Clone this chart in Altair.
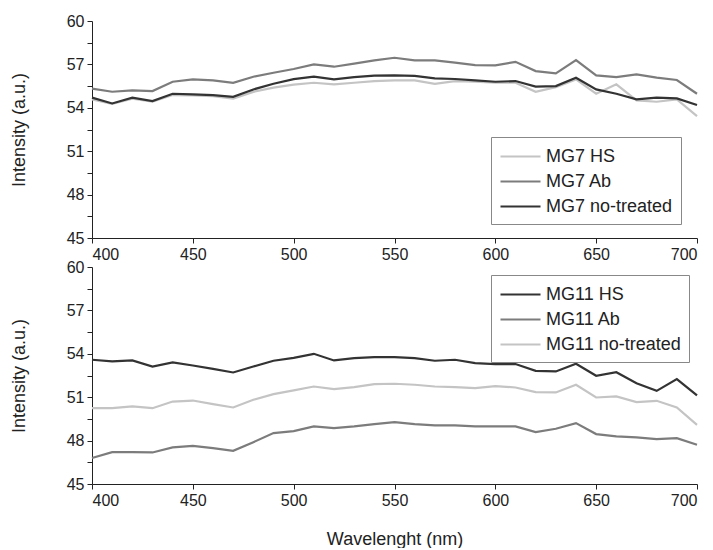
import altair as alt
import pandas as pd

wavelength = [400, 410, 420, 430, 440, 450, 460, 470, 480, 490, 500, 510, 520, 530, 540, 550,
              560, 570, 580, 590, 600, 610, 620, 630, 640, 650, 660, 670, 680, 690, 700]

mg7_hs = [54.58, 54.28, 54.63, 54.42, 54.88, 54.86, 54.80, 54.63, 55.10, 55.39, 55.60, 55.73, 55.62,
          55.73, 55.85, 55.90, 55.90, 55.66, 55.85, 55.80, 55.73, 55.73, 55.11, 55.43, 55.96, 54.97,
          55.62, 54.51, 54.42, 54.58, 53.43]
mg7_ab = [55.32, 55.11, 55.20, 55.16, 55.80, 55.96, 55.90, 55.73, 56.15, 56.42, 56.68, 57.00, 56.84,
          57.05, 57.28, 57.46, 57.28, 57.28, 57.12, 56.95, 56.93, 57.18, 56.54, 56.38, 57.30, 56.24,
          56.12, 56.31, 56.08, 55.92, 54.97]
mg7_nt = [54.70, 54.30, 54.70, 54.47, 54.97, 54.93, 54.88, 54.76, 55.27, 55.66, 55.98, 56.15, 55.96,
          56.12, 56.22, 56.24, 56.20, 56.03, 55.99, 55.90, 55.80, 55.85, 55.46, 55.50, 56.08, 55.27,
          54.97, 54.58, 54.70, 54.65, 54.19]

mg11_hs = [53.59, 53.47, 53.54, 53.12, 53.40, 53.19, 52.96, 52.71, 53.12, 53.52, 53.72, 54.00, 53.54,
           53.70, 53.77, 53.77, 53.70, 53.52, 53.59, 53.35, 53.29, 53.29, 52.82, 52.78, 53.31, 52.48,
           52.73, 51.97, 51.44, 52.25, 51.12]
mg11_ab = [46.80, 47.20, 47.20, 47.18, 47.53, 47.64, 47.48, 47.29, 47.89, 48.52, 48.66, 48.98, 48.86,
           48.98, 49.14, 49.28, 49.14, 49.05, 49.05, 48.98, 48.98, 48.98, 48.59, 48.82, 49.21, 48.45,
           48.29, 48.22, 48.10, 48.17, 47.71]
mg11_nt = [50.24, 50.24, 50.36, 50.24, 50.70, 50.77, 50.52, 50.29, 50.82, 51.21, 51.47, 51.74, 51.56,
           51.70, 51.90, 51.93, 51.86, 51.74, 51.70, 51.63, 51.77, 51.67, 51.35, 51.33, 51.86, 50.98,
           51.05, 50.66, 50.75, 50.29, 49.09]

top_series = ["MG7 HS", "MG7 Ab", "MG7 no-treated"]
bottom_series = ["MG11 HS", "MG11 Ab", "MG11 no-treated"]
top_colors = ["#c4c4c4", "#7c7c7c", "#333333"]
bottom_colors = ["#333333", "#7c7c7c", "#c4c4c4"]

y_ticks = [45, 46.5, 48, 49.5, 51, 52.5, 54, 55.5, 57, 58.5, 60]
x_ticks = [400, 450, 500, 550, 600, 650, 700]

FONT = "Liberation Sans"
PLOT_W = 605
PLOT_H = 217


def make_df(names, arrays):
    rows = []
    for order, (name, arr) in enumerate(zip(names, arrays)):
        for w, v in zip(wavelength, arr):
            rows.append({"wl": w, "val": v, "series": name, "ord": order})
    return pd.DataFrame(rows)


def panel(df, names, colors, legend_y, x_title):
    x_axis = alt.Axis(values=x_ticks, title=x_title, grid=False, tickSize=5,
                      labelFontSize=16, titleFontSize=18, titleFontWeight="normal",
                      labelColor="#222", titleColor="#222", domainColor="#222", tickColor="#222",
                      labelFont=FONT, titleFont=FONT, titlePadding=22, labelPadding=3)
    y_axis = alt.Axis(values=y_ticks, title="Intensity (a.u.)", grid=False, tickSize=5,
                      labelExpr="datum.value % 3 == 0 ? datum.label : ''",
                      labelFontSize=16, titleFontSize=18, titleFontWeight="normal",
                      labelColor="#222", titleColor="#222", domainColor="#222", tickColor="#222",
                      labelFont=FONT, titleFont=FONT, titlePadding=38, labelPadding=3)
    return alt.Chart(df).mark_line(strokeWidth=2.2).encode(
        x=alt.X("wl:Q", scale=alt.Scale(domain=[400, 700], nice=False), axis=x_axis),
        y=alt.Y("val:Q", scale=alt.Scale(domain=[45, 60], nice=False, zero=False), axis=y_axis),
        color=alt.Color("series:N", sort=names,
                        scale=alt.Scale(domain=names, range=colors),
                        legend=alt.Legend(title=None, orient="none", legendX=399, legendY=legend_y,
                                          symbolType="M-1,0H3", symbolSize=400, symbolStrokeWidth=2.2,
                                          labelFontSize=18, labelFont=FONT, labelColor="#222",
                                          strokeColor="#888", fillColor="white", padding=8,
                                          rowPadding=4, labelOffset=24, labelLimit=300)),
        order="ord:Q",
    ).properties(width=PLOT_W, height=PLOT_H)


top = panel(make_df(top_series, [mg7_hs, mg7_ab, mg7_nt]), top_series, top_colors, 116, None)
bottom = panel(make_df(bottom_series, [mg11_hs, mg11_ab, mg11_nt]), bottom_series, bottom_colors, 8,
               "Wavelenght (nm)")

chart = alt.vconcat(top, bottom, spacing=29, bounds="flush").resolve_scale(
    color="independent").resolve_legend(color="independent").configure_view(
    stroke=None).properties(padding={"left": 2, "top": 5, "right": 0, "bottom": 0},
                            background="white")

chart.save("out.html", embed_options={"renderer": "svg", "actions": False})
